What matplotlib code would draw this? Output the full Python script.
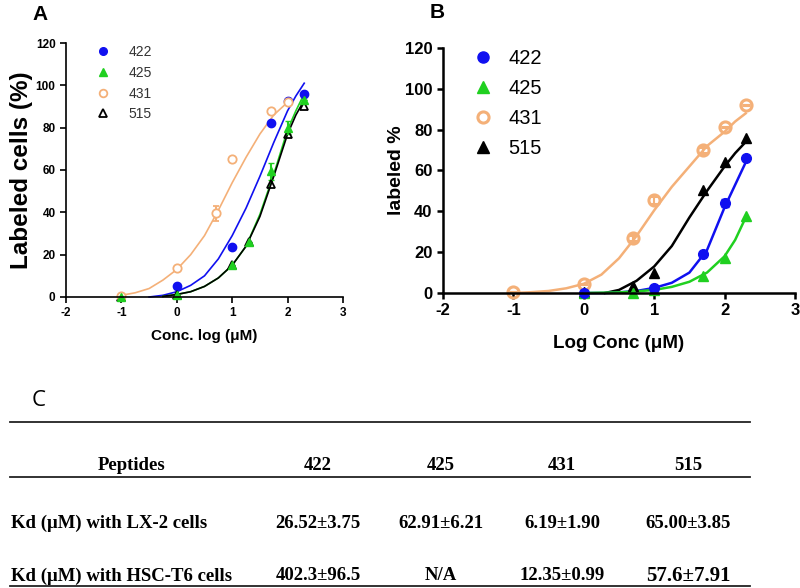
import matplotlib.pyplot as plt
from matplotlib.lines import Line2D

# ---------- panel A data (Labeled cells %, log conc) ----------
a_422_x = [0, 1, 1.7, 2, 2.3]
a_422_y = [5, 23.5, 82, 92.5, 96]
a_425_x = [-1, 0, 1, 1.3, 1.7, 2, 2.3]
a_425_y = [0, 1, 15, 26, 59.5, 80, 93]
a_425_err = [0, 0, 0, 0, 4, 3, 0]
a_431_x = [-1, 0, 0.7, 1, 1.7, 2]
a_431_y = [0.5, 13.5, 39.5, 65, 88, 92]
a_431_err = [0, 0, 3.5, 0, 0, 0]
a_515_x = [-1, 0, 1, 1.3, 1.7, 2, 2.3]
a_515_y = [0, 1, 15, 26, 53.5, 77, 90]

# fitted curves
a_fit_422_x = [-0.5, -0.25, 0, 0.25, 0.5, 0.75, 1, 1.25, 1.5, 1.75, 2, 2.15, 2.3]
a_fit_422_y = [0, 0.8, 2.5, 5.5, 10, 18, 29, 42, 57, 73, 88, 95, 101]
a_fit_431_x = [-1, -0.75, -0.5, -0.25, 0, 0.25, 0.5, 0.75, 1, 1.25, 1.5, 1.75, 2]
a_fit_431_y = [0.8, 2, 4, 8, 13, 20, 29, 41, 54, 66, 77, 86, 92]
a_fit_425_x = [-0.25, 0, 0.25, 0.5, 0.75, 1, 1.25, 1.5, 1.75, 2, 2.15, 2.3]
a_fit_425_y = [0.3, 1.2, 2.5, 5, 9, 15, 24, 39, 58, 79, 88, 96]
a_fit_515_x = [-0.25, 0, 0.25, 0.5, 0.75, 1, 1.25, 1.5, 1.75, 2, 2.15, 2.3]
a_fit_515_y = [0.3, 1.2, 2.5, 5, 9, 15, 24, 38, 57, 77, 86, 93]

# ---------- panel B data ----------
b_422_x = [0, 1, 1.7, 2, 2.3]
b_422_y = [0, 2.5, 19, 44, 66]
b_422_err = [0, 0, 0, 2, 0]
b_425_x = [0, 0.7, 1, 1.7, 2, 2.3]
b_425_y = [0, 0, 1.5, 8.5, 17, 37.5]
b_431_x = [-1, 0, 0.7, 1, 1.7, 2, 2.3]
b_431_y = [0.5, 4.5, 27, 45.5, 70, 81.5, 92]
b_431_err = [0, 0, 1.5, 2, 1.5, 0, 0]
b_515_x = [0, 0.7, 1, 1.7, 2, 2.3]
b_515_y = [0.5, 3.5, 10, 50.5, 64, 76]

b_fit_422_x = [0, 0.3, 0.5, 0.75, 1, 1.25, 1.5, 1.75, 2, 2.15, 2.3]
b_fit_422_y = [0, 0, 0.3, 1, 2.5, 5, 10, 21, 42, 53, 64]
b_fit_425_x = [0, 0.5, 0.75, 1, 1.25, 1.5, 1.75, 2, 2.15, 2.3]
b_fit_425_y = [0, 0.3, 0.8, 1.5, 3, 5.5, 10, 18, 26, 37]
b_fit_431_x = [-1, -0.75, -0.5, -0.25, 0, 0.25, 0.5, 0.75, 1, 1.25, 1.5, 1.75, 2, 2.15, 2.3]
b_fit_431_y = [0, 0.4, 1, 2.3, 4.5, 9, 17, 28, 40.5, 52, 62, 72, 79, 84, 88]
b_fit_515_x = [0.3, 0.5, 0.75, 1, 1.25, 1.5, 1.75, 2, 2.15, 2.3]
b_fit_515_y = [0, 1.5, 6, 13, 23, 37, 50, 62, 68.5, 74]

# ---------- table ----------
col_headers = ["Peptides", "422", "425", "431", "515"]
row_lx2 = ["Kd (\u03bcM) with LX-2 cells", "26.52\u00b13.75", "62.91\u00b16.21", "6.19\u00b11.90", "65.00\u00b13.85"]
row_hsc = ["Kd (\u03bcM) with HSC-T6 cells", "402.3\u00b196.5", "N/A", "12.35\u00b10.99", "57.6\u00b17.91"]

BLUE = "#1010f0"
GREEN = "#20d020"
ORANGE = "#f4b078"
BLACK = "#000000"

plt.rcParams['font.family'] = ['Liberation Sans', 'DejaVu Sans']
plt.rcParams['axes.unicode_minus'] = False
fig = plt.figure(figsize=(8, 5.88), dpi=100)


def prism_axes(ax, tick_size, lw):
    for s in ("top", "right"):
        ax.spines[s].set_visible(False)
    for s in ("left", "bottom"):
        ax.spines[s].set_linewidth(lw)
    ax.set_xlim(-2, 3)
    ax.set_ylim(0, 120)
    ax.set_xticks([-2, -1, 0, 1, 2, 3])
    ax.set_yticks(range(0, 121, 20))
    ax.tick_params(direction="out", width=lw, length=4, labelsize=tick_size)
    for lab in ax.get_xticklabels() + ax.get_yticklabels():
        lab.set_fontweight("bold")


# ---------- panel A ----------
axA = fig.add_axes([66 / 800, 1 - 297 / 588, 277 / 800, 254 / 588])
prism_axes(axA, 8.5, 1.2)
axA.plot(a_fit_431_x, a_fit_431_y, color=ORANGE, lw=1.2, clip_on=False)
axA.plot(a_fit_422_x, a_fit_422_y, color=BLUE, lw=1.2, clip_on=False)
axA.plot(a_fit_425_x, a_fit_425_y, color=GREEN, lw=1.2, clip_on=False)
axA.plot(a_fit_515_x, a_fit_515_y, color=BLACK, lw=1.2, clip_on=False)
axA.errorbar(a_431_x, a_431_y, yerr=a_431_err, fmt="o", mfc="white", mec=ORANGE,
             ecolor=ORANGE, ms=6, mew=1.3, capsize=2, clip_on=False)
axA.errorbar(a_425_x, a_425_y, yerr=a_425_err, fmt="^", color=GREEN, ms=5.5,
             capsize=2, clip_on=False)
axA.plot(a_422_x, a_422_y, "o", color=BLUE, ms=6, clip_on=False)
axA.plot(a_515_x, a_515_y, "^", mfc="none", mec=BLACK, ms=5.5, mew=1.3,
         clip_on=False)
axA.set_xlabel("Conc. log (\u03bcM)", fontsize=11, fontweight="bold", labelpad=7)
axA.set_ylabel("Labeled cells (%)", fontsize=17.5, fontweight="bold", labelpad=2)

hA = [Line2D([], [], ls="none", marker="o", color=BLUE, ms=5.5),
      Line2D([], [], ls="none", marker="^", color=GREEN, ms=5.5),
      Line2D([], [], ls="none", marker="o", mfc="white", mec=ORANGE, mew=1.3, ms=5.5),
      Line2D([], [], ls="none", marker="^", mfc="white", mec=BLACK, mew=1.3, ms=5.5)]
legA = axA.legend(hA, ["422", "425", "431", "515"], loc="upper left",
                  bbox_to_anchor=(0.05, 1.04), frameon=False, fontsize=10,
                  handletextpad=1.1, labelspacing=0.48, handlelength=1.5)
for t in legA.get_texts():
    t.set_color("#333333")
fig.text(40 / 800, 1 - 15 / 588, "A", fontsize=15, fontweight="bold",
         ha="center", va="center")

# ---------- panel B ----------
axB = fig.add_axes([443 / 800, 1 - 293 / 588, 352 / 800, 245 / 588])
prism_axes(axB, 12, 1.8)
axB.plot(b_fit_431_x, b_fit_431_y, color=ORANGE, lw=1.8, clip_on=False)
axB.plot(b_fit_515_x, b_fit_515_y, color=BLACK, lw=1.8, clip_on=False)
axB.plot(b_fit_422_x, b_fit_422_y, color=BLUE, lw=1.8, clip_on=False)
axB.plot(b_fit_425_x, b_fit_425_y, color=GREEN, lw=1.8, clip_on=False)
axB.errorbar(b_431_x, b_431_y, yerr=b_431_err, fmt="o", mfc="none", mec=ORANGE,
             ecolor=ORANGE, ms=8, mew=2.2, capsize=3, clip_on=False)
axB.errorbar(b_422_x, b_422_y, yerr=b_422_err, fmt="o", color=BLUE, ms=7,
             capsize=3, clip_on=False)
axB.plot(b_515_x, b_515_y, "^", color=BLACK, ms=7, clip_on=False)
axB.plot(b_425_x, b_425_y, "^", color=GREEN, ms=7, clip_on=False)
axB.set_xlabel("Log Conc (\u03bcM)", fontsize=13.5, fontweight="bold", labelpad=12)
axB.set_ylabel("labeled %", fontsize=14, fontweight="bold", labelpad=0)

hB = [Line2D([], [], ls="none", marker="o", color=BLUE, ms=8),
      Line2D([], [], ls="none", marker="^", color=GREEN, ms=8),
      Line2D([], [], ls="none", marker="o", mfc="white", mec=ORANGE, mew=2.2, ms=8),
      Line2D([], [], ls="none", marker="^", color=BLACK, ms=8)]
axB.legend(hB, ["422", "425", "431", "515"], loc="upper left",
           bbox_to_anchor=(0.02, 1.07), frameon=False, fontsize=14.5,
           handletextpad=0.5, labelspacing=0.55, handlelength=1.5)
fig.text(437 / 800, 1 - 13 / 588, "B", fontsize=15, fontweight="bold",
         ha="center", va="center")

# ---------- panel C: table ----------
axT = fig.add_axes([0, 0, 1, 1])
axT.set_xlim(0, 800)
axT.set_ylim(588, 0)
axT.axis("off")
axT.text(39, 400, "C", fontsize=16, family="Open Sans", ha="center", va="center")
for yy in (422, 477, 586):
    axT.plot([10, 750], [yy, yy], color="#222222", lw=1.3)

col_x = [132, 318, 441, 562, 688]
tfont = dict(family="Liberation Serif", fontweight="bold", fontsize=13.5, va="center")
for i, txt in enumerate(col_headers):
    axT.text(col_x[i], 466, txt, ha="center", **tfont)
for row, yy in ((row_lx2, 523), (row_hsc, 576)):
    axT.text(11, yy, row[0], ha="left", **tfont)
    for i in range(1, 5):
        size = 15 if row[i] == "57.6\u00b17.91" else 13.5
        axT.text(col_x[i], yy, row[i], ha="center",
                 **{**tfont, "fontsize": size})

fig.savefig("out.png", dpi=100)
